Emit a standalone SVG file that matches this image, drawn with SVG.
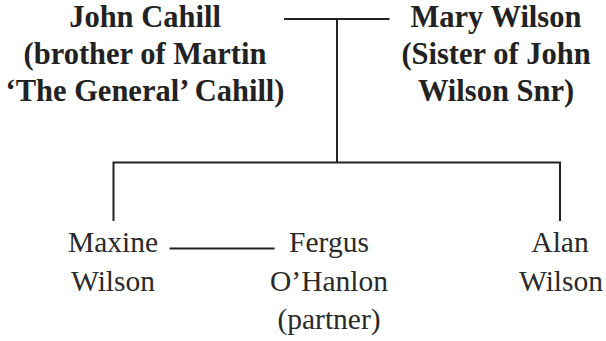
<svg xmlns="http://www.w3.org/2000/svg" width="606" height="341" viewBox="0 0 606 341">
<style>
.b{font-family:"Liberation Serif","Times New Roman",serif;font-weight:bold;font-size:30.5px;fill:#222;text-anchor:middle}
.r{font-family:"Liberation Serif","Times New Roman",serif;font-size:29.5px;fill:#2a2a2a;text-anchor:middle}
.c{stroke:#222;stroke-width:2;fill:none}
</style>
<rect width="606" height="341" fill="#fff"/>
<g id="connectors">
<line class="c" x1="284" y1="19" x2="389.5" y2="19"/>
<line class="c" x1="337" y1="19" x2="337" y2="162.5"/>
<polyline class="c" points="113.5,221 113.5,162.5 560,162.5 560,221"/>
<line class="c" x1="169.5" y1="248.5" x2="274.5" y2="248.5"/>
</g>
<g id="john-cahill">
<text class="b" x="145" y="27">John Cahill</text>
<text class="b" x="145" y="64">(brother of Martin</text>
<text class="b" x="145" y="101">‘The General’ Cahill)</text>
</g>
<g id="mary-wilson">
<text class="b" x="496" y="27">Mary Wilson</text>
<text class="b" x="496" y="64">(Sister of John</text>
<text class="b" x="496" y="101">Wilson Snr)</text>
</g>
<g id="maxine-wilson">
<text class="r" x="113" y="252">Maxine</text>
<text class="r" x="113" y="290.5">Wilson</text>
</g>
<g id="fergus-ohanlon">
<text class="r" x="329" y="252">Fergus</text>
<text class="r" x="329" y="290.5">O’Hanlon</text>
<text class="r" x="329" y="329">(partner)</text>
</g>
<g id="alan-wilson">
<text class="r" x="560" y="252">Alan</text>
<text class="r" x="561" y="290.5">Wilson</text>
</g>
</svg>
